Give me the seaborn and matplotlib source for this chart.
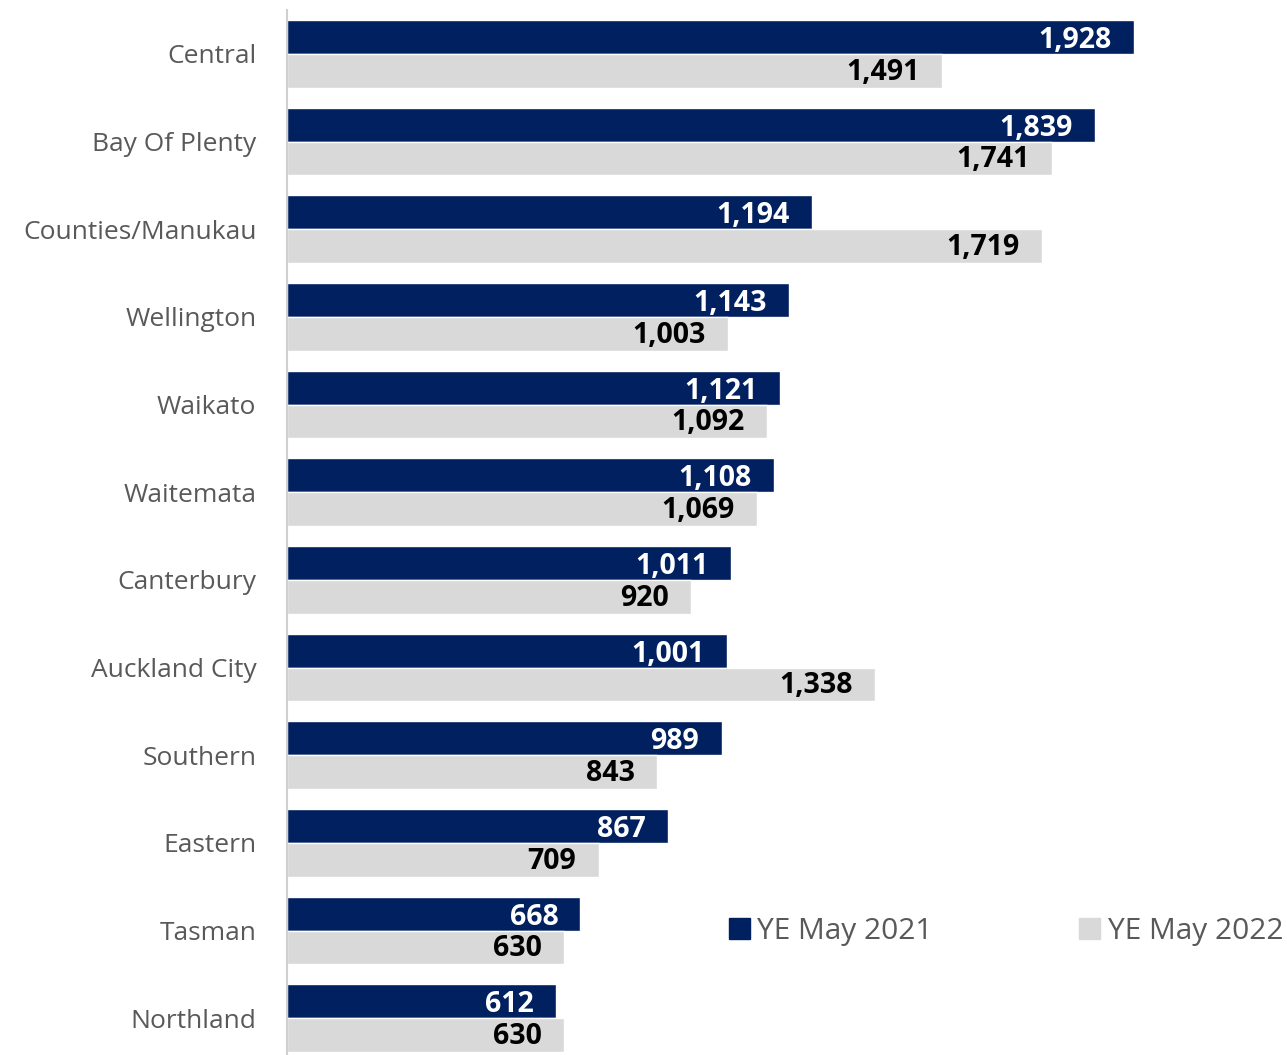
import matplotlib.pyplot as plt
import pandas as pd
import seaborn as sns

regions = [
    "Central", "Bay Of Plenty", "Counties/Manukau", "Wellington", "Waikato",
    "Waitemata", "Canterbury", "Auckland City", "Southern", "Eastern",
    "Tasman", "Northland",
]
ye_2021 = [1928, 1839, 1194, 1143, 1121, 1108, 1011, 1001, 989, 867, 668, 612]
ye_2022 = [1491, 1741, 1719, 1003, 1092, 1069, 920, 1338, 843, 709, 630, 630]
series = ["YE May 2021", "YE May 2022"]
colors = ["#002060", "#D9D9D9"]

df = pd.DataFrame({
    "Region": regions * 2,
    "Count": ye_2021 + ye_2022,
    "Period": [series[0]] * len(regions) + [series[1]] * len(regions),
})

sns.set_theme(style="white")
plt.rcParams["font.family"] = ["Open Sans", "DejaVu Sans"]

fig = plt.figure(figsize=(12.87, 10.55), dpi=100)
ax = fig.add_axes([287 / 1287, 0.0, 1 - 287 / 1287, 1 - 10 / 1055])

sns.barplot(
    data=df, x="Count", y="Region", hue="Period", order=regions,
    hue_order=series, palette=colors, orient="h", width=0.77,
    saturation=1, ax=ax, legend=False,
)

ax.set_xlim(0, 2276)
ax.set_ylim(11.42, -0.5)
ax.set_xlabel("")
ax.set_ylabel("")
ax.set_xticks([])
ax.tick_params(axis="y", length=0, pad=22, labelsize=19, labelcolor="#595959")

for side in ["top", "right", "bottom"]:
    ax.spines[side].set_visible(False)
ax.spines["left"].set_color("#D0D0D0")
ax.spines["left"].set_linewidth(1.5)

# Value labels inside the bar ends
for container, txt_color, dy in zip(ax.containers, ["white", "black"], [-2.5, -1]):
    for bar in container:
        w = bar.get_width()
        yc = bar.get_y() + bar.get_height() / 2
        ax.annotate(
            f"{w:,.0f}", (w, yc), xytext=(-16, dy), textcoords="offset points",
            ha="right", va="center", fontsize=20.5, fontweight="bold",
            color=txt_color,
        )

handles = [plt.Rectangle((0, 0), 1, 1, color=c) for c in colors]
fig.legend(
    handles, series, loc="center", bbox_to_anchor=(1006 / 1287, 1 - 931 / 1055),
    ncol=2, frameon=False, fontsize=21.5, handlelength=0.7, handleheight=0.7,
    handletextpad=0.25, columnspacing=4.9, labelcolor="#595959",
)

plt.savefig("out.png", dpi=100)
plt.close()
